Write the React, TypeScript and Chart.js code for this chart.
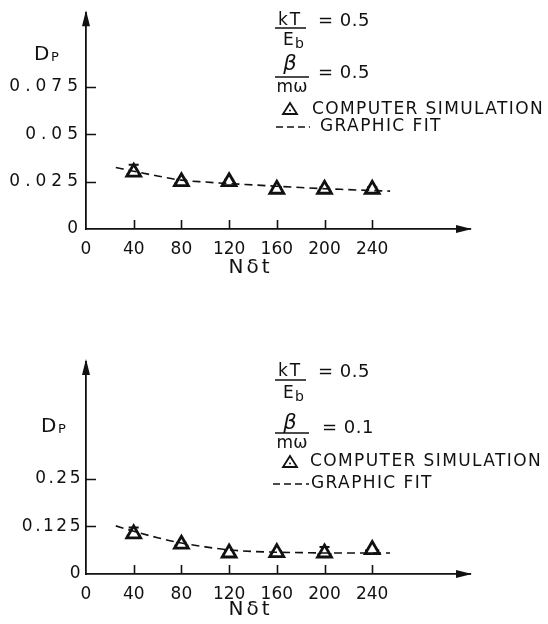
import React, { useEffect, useRef } from 'react';
import { Chart, registerables } from 'chart.js';
Chart.register(...registerables);

// ---------- data ----------
const simX = [40, 80, 120, 160, 200, 240];
const xTickLabels = ['0', '40', '80', '120', '160', '200', '240'];
const xTickValues = [0, 40, 80, 120, 160, 200, 240];
const fitX = [25, 40, 60, 80, 100, 120, 140, 160, 180, 200, 220, 240, 255];

// top panel (beta/m-omega = 0.5)
const topSim = [0.030, 0.025, 0.025, 0.021, 0.021, 0.021];
const topHi = [0.034, 0.026, 0.026, 0.022, 0.022, 0.022];
const topLo = [0.029, 0.024, 0.024, 0.019, 0.020, 0.020];
const topFit = [0.0325, 0.0305, 0.028, 0.0258, 0.0248, 0.024, 0.0233, 0.0226, 0.0219, 0.0213, 0.0208, 0.0203, 0.0200];
const topYTicks = [0, 0.025, 0.05, 0.075];
const topYLabels = ['0', '0.025', '0.05', '0.075'];

// bottom panel (beta/m-omega = 0.1)
const botSim = [0.105, 0.078, 0.055, 0.056, 0.055, 0.064];
const botHi = [0.122, 0.082, 0.060, 0.060, 0.071, 0.066];
const botLo = [0.100, 0.074, 0.050, 0.050, 0.052, 0.062];
const botFit = [0.126, 0.112, 0.095, 0.081, 0.071, 0.063, 0.059, 0.057, 0.056, 0.055, 0.055, 0.055, 0.055];
const botYTicks = [0, 0.125, 0.25];
const botYLabels = ['0', '0.125', '0.25'];

const FONT = "'DejaVu Sans', sans-serif";
const INK = '#111';

type Ann = {
  kT: [number, number]; barA: [number, number, number]; eb: [number, number];
  eq1: [number, number]; beta: [number, number]; barB: [number, number, number];
  mw: [number, number]; eq2: [number, number]; eq2Text: string;
  tri: [number, number]; cs: [number, number]; dash: [number, number, number]; gf: [number, number];
  d: [number, number]; titleDy: number;
};

type Panel = {
  height: number; padTop: number; xHeight: number;
  yMax: number; yStep: number; yTicks: number[]; yLabels: string[]; ySpacing: number;
  sim: number[]; hi: number[]; lo: number[]; fit: number[]; ann: Ann;
};

const panels: Panel[] = [
  {
    height: 300, padTop: 10, xHeight: 71,
    yMax: 0.114, yStep: 0.025, yTicks: topYTicks, yLabels: topYLabels, ySpacing: 5,
    sim: topSim, hi: topHi, lo: topLo, fit: topFit,
    ann: {
      kT: [290, 25], barA: [275, 306, 28], eb: [283, 45], eq1: [318, 21],
      beta: [290, 70], barB: [275, 309, 77], mw: [292, 92], eq2: [318, 73], eq2Text: '= 0.5',
      tri: [290, 109], cs: [312, 110], dash: [276, 310, 127], gf: [320, 127], d: [34, 60],
      titleDy: 39,
    },
  },
  {
    height: 324, padTop: 62, xHeight: 50,
    yMax: 0.555, yStep: 0.125, yTicks: botYTicks, yLabels: botYLabels, ySpacing: 2.5,
    sim: botSim, hi: botHi, lo: botLo, fit: botFit,
    ann: {
      kT: [290, 76], barA: [275, 306, 80], eb: [283, 98], eq1: [318, 72],
      beta: [290, 129], barB: [275, 309, 133], mw: [292, 148], eq2: [322, 128], eq2Text: '= 0.1',
      tri: [290, 162], cs: [310, 162], dash: [273, 309, 184], gf: [311, 184], d: [41, 132],
      titleDy: 36,
    },
  },
];

function setSpacing(ctx: any, px: number) {
  if ('letterSpacing' in ctx) ctx.letterSpacing = px + 'px';
}

function makePlugin(p: Panel) {
  return {
    id: 'figure',
    beforeDatasetsDraw(chart: any) {
      const { ctx } = chart;
      const xs = chart.scales.x, ys = chart.scales.y;
      ctx.save();
      ctx.strokeStyle = INK;
      ctx.lineWidth = 2;
      simX.forEach((xv, i) => {
        const px = xs.getPixelForValue(xv);
        const ph = ys.getPixelForValue(p.hi[i]);
        const pl = ys.getPixelForValue(p.lo[i]);
        ctx.beginPath();
        ctx.moveTo(px, ph); ctx.lineTo(px, pl);
        ctx.moveTo(px - 5, ph); ctx.lineTo(px + 5, ph);
        ctx.moveTo(px - 7, pl); ctx.lineTo(px + 7, pl);
        ctx.stroke();
      });
      ctx.restore();
    },
    afterDatasetsDraw(chart: any) {
      // letter spacing for the y tick labels (drawn after datasets, z = 1)
      setSpacing(chart.ctx, p.ySpacing);
    },
    afterDraw(chart: any) {
      const { ctx, chartArea } = chart;
      const xs = chart.scales.x, ys = chart.scales.y;
      const { left, right, top, bottom } = chartArea;
      ctx.save();
      setSpacing(ctx, 0);
      ctx.fillStyle = INK;
      ctx.strokeStyle = INK;
      // arrows
      ctx.beginPath();
      ctx.moveTo(left, top - 3); ctx.lineTo(left - 4, top + 13); ctx.lineTo(left + 4, top + 13); ctx.closePath();
      ctx.fill();
      ctx.beginPath();
      ctx.moveTo(right + 2, bottom); ctx.lineTo(right - 14, bottom - 4); ctx.lineTo(right - 14, bottom + 4); ctx.closePath();
      ctx.fill();
      // tick marks
      ctx.lineWidth = 1.6;
      ctx.beginPath();
      xTickValues.slice(1).forEach((v) => {
        const px = Math.round(xs.getPixelForValue(v)) + 0.5;
        ctx.moveTo(px, bottom); ctx.lineTo(px, bottom - 9);
      });
      p.yTicks.slice(1).forEach((v) => {
        const py = Math.round(ys.getPixelForValue(v)) + 0.5;
        ctx.moveTo(left, py); ctx.lineTo(left + 10, py);
      });
      ctx.stroke();

      const a = p.ann;
      // x axis title N δ t
      setSpacing(ctx, 3);
      ctx.font = `20px ${FONT}`;
      ctx.textAlign = 'center';
      ctx.textBaseline = 'middle';
      ctx.fillText('Nδt', xs.getPixelForValue(138), bottom + a.titleDy);

      // D_P
      setSpacing(ctx, 0);
      ctx.textAlign = 'left';
      ctx.textBaseline = 'alphabetic';
      ctx.font = `20px ${FONT}`;
      ctx.fillText('D', a.d[0], a.d[1]);
      ctx.font = `13px ${FONT}`;
      ctx.fillText('P', a.d[0] + 17, a.d[1] + 1);

      // kT / Eb
      setSpacing(ctx, 2);
      ctx.font = `17px ${FONT}`;
      ctx.textAlign = 'center';
      ctx.fillText('kT', a.kT[0], a.kT[1]);
      ctx.lineWidth = 1.6;
      ctx.beginPath();
      ctx.moveTo(a.barA[0], a.barA[2]); ctx.lineTo(a.barA[1], a.barA[2]);
      ctx.moveTo(a.barB[0], a.barB[2]); ctx.lineTo(a.barB[1], a.barB[2]);
      ctx.stroke();
      setSpacing(ctx, 0);
      ctx.textAlign = 'left';
      ctx.font = `17px ${FONT}`;
      ctx.fillText('E', a.eb[0], a.eb[1]);
      ctx.font = `14px ${FONT}`;
      ctx.fillText('b', a.eb[0] + 12, a.eb[1] + 3);
      ctx.font = `18px ${FONT}`;
      ctx.textBaseline = 'middle';
      setSpacing(ctx, 0.5);
      ctx.fillText('= 0.5', a.eq1[0], a.eq1[1]);
      ctx.fillText(a.eq2Text, a.eq2[0], a.eq2[1]);
      // beta / m omega
      ctx.textBaseline = 'alphabetic';
      ctx.textAlign = 'center';
      setSpacing(ctx, 0);
      ctx.font = `italic 21px ${FONT}`;
      ctx.fillText('β', a.beta[0], a.beta[1]);
      ctx.font = `17px ${FONT}`;
      ctx.fillText('mω', a.mw[0], a.mw[1]);
      // legend
      const [tx, ty] = a.tri;
      ctx.lineWidth = 1.8;
      ctx.beginPath();
      ctx.moveTo(tx, ty - 6); ctx.lineTo(tx + 7, ty + 5); ctx.lineTo(tx - 7, ty + 5); ctx.closePath();
      ctx.stroke();
      ctx.beginPath(); ctx.arc(tx, ty + 1.5, 1, 0, Math.PI * 2); ctx.fill();
      ctx.textAlign = 'left';
      ctx.textBaseline = 'middle';
      ctx.font = `17px ${FONT}`;
      setSpacing(ctx, 1.4);
      ctx.fillText('COMPUTER SIMULATION', a.cs[0], a.cs[1]);
      ctx.fillText('GRAPHIC FIT', a.gf[0], a.gf[1]);
      ctx.setLineDash([7, 4]);
      ctx.lineWidth = 1.5;
      ctx.beginPath();
      ctx.moveTo(a.dash[0], a.dash[2]); ctx.lineTo(a.dash[1], a.dash[2]);
      ctx.stroke();
      ctx.restore();
    },
  };
}

function makeConfig(p: Panel): any {
  const yLabel = (v: number) => {
    const i = p.yTicks.findIndex((t) => Math.abs(t - v) < 1e-9);
    return i >= 0 ? p.yLabels[i] : '';
  };
  const xLabel = (v: number) => {
    const i = xTickValues.indexOf(v);
    return i >= 0 ? xTickLabels[i] : '';
  };
  return {
    type: 'scatter',
    data: {
      datasets: [
        {
          type: 'line',
          label: 'GRAPHIC FIT',
          data: fitX.map((x, i) => ({ x, y: p.fit[i] })),
          borderColor: INK,
          borderWidth: 1.6,
          borderDash: [8, 5],
          pointRadius: 0,
          fill: false,
          cubicInterpolationMode: 'monotone',
        },
        {
          label: 'COMPUTER SIMULATION',
          data: simX.map((x, i) => ({ x, y: p.sim[i] })),
          pointStyle: 'triangle',
          pointRadius: 8,
          pointBorderWidth: 2.8,
          borderColor: INK,
          backgroundColor: '#fff',
          showLine: false,
        },
        {
          label: 'centre',
          data: simX.map((x, i) => ({ x, y: p.sim[i] })),
          pointStyle: 'circle',
          pointRadius: 1.2,
          borderWidth: 0,
          backgroundColor: INK,
          showLine: false,
        },
      ],
    },
    options: {
      responsive: false,
      animation: false,
      events: [],
      layout: { padding: { left: 0, right: 78, top: p.padTop, bottom: 0 } },
      plugins: { legend: { display: false }, tooltip: { enabled: false }, title: { display: false } },
      scales: {
        x: {
          type: 'linear',
          min: 0,
          max: 322,
          grid: { display: false, drawTicks: false },
          border: { display: true, color: INK, width: 1.8 },
          ticks: {
            stepSize: 40,
            autoSkip: false,
            maxRotation: 0,
            padding: 10,
            color: INK,
            font: { family: FONT, size: 17 },
            callback: xLabel,
          },
          afterFit: (s: any) => { s.height = p.xHeight; },
        },
        y: {
          type: 'linear',
          min: 0,
          max: p.yMax,
          grid: { display: false, drawTicks: false },
          border: { display: true, color: INK, width: 1.8 },
          ticks: {
            stepSize: p.yStep,
            autoSkip: false,
            padding: 3,
            color: INK,
            z: 1,
            font: { family: FONT, size: 17 },
            callback: yLabel,
          },
          afterFit: (s: any) => { s.width = 86; },
        },
      },
    },
    plugins: [makePlugin(p)],
  };
}

function PanelChart({ p, top }: { p: Panel; top: number }) {
  const ref = useRef<HTMLCanvasElement | null>(null);
  useEffect(() => {
    if (!ref.current) return;
    const chart = new Chart(ref.current, makeConfig(p));
    return () => chart.destroy();
  }, [p]);
  return (
    <canvas
      ref={ref}
      width={548}
      height={p.height}
      style={{ position: 'absolute', left: 0, top, width: 548, height: p.height }}
    />
  );
}

export default function App() {
  return (
    <div style={{ position: 'absolute', left: 0, top: 0, width: 548, height: 624, background: '#fff' }}>
      <PanelChart p={panels[0]} top={0} />
      <PanelChart p={panels[1]} top={300} />
    </div>
  );
}
